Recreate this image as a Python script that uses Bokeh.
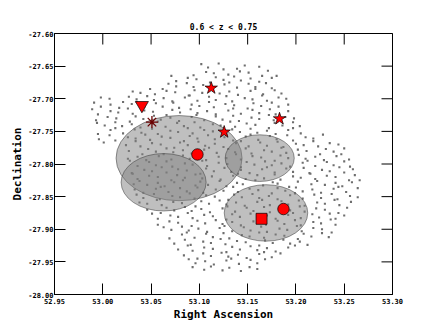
import math
from bokeh.plotting import figure
from bokeh.models import Range1d, FixedTicker, NumeralTickFormatter
from bokeh.embed import file_html
from bokeh.resources import INLINE

# ---- data ----
title_text = "0.6 < z < 0.75"
x_ticks = [52.95, 53.00, 53.05, 53.10, 53.15, 53.20, 53.25, 53.30]
y_ticks = [-28.00, -27.95, -27.90, -27.85, -27.80, -27.75, -27.70, -27.65, -27.60]
x_lim = [52.95, 53.30]
y_lim = [-28.00, -27.60]

# field galaxies (RA, Dec)
field_points = [
    (53.102,-27.647),(53.109,-27.652),(53.120,-27.646),(53.139,-27.654),(53.147,-27.649),(53.162,-27.651),
    (53.094,-27.664),(53.107,-27.659),(53.115,-27.661),(53.125,-27.655),(53.130,-27.663),(53.142,-27.658),(53.151,-27.660),(53.165,-27.665),(53.171,-27.657),
    (53.071,-27.665),(53.076,-27.673),(53.088,-27.668),(53.097,-27.670),(53.111,-27.675),(53.117,-27.667),(53.125,-27.671),(53.136,-27.666),(53.143,-27.672),(53.153,-27.669),(53.162,-27.674),(53.175,-27.668),(53.180,-27.665),
    (53.062,-27.685),(53.068,-27.677),(53.076,-27.681),(53.087,-27.676),(53.094,-27.682),(53.104,-27.679),(53.126,-27.678),(53.131,-27.675),(53.139,-27.683),(53.151,-27.677),(53.158,-27.682),(53.169,-27.676),(53.175,-27.684),
    (53.031,-27.689),(53.039,-27.691),(53.049,-27.685),(53.054,-27.693),(53.066,-27.688),(53.075,-27.690),(53.089,-27.695),(53.095,-27.687),(53.103,-27.691),(53.114,-27.686),(53.121,-27.692),(53.131,-27.689),(53.140,-27.694),(53.153,-27.688),(53.158,-27.685),(53.166,-27.693),(53.178,-27.687),(53.185,-27.692),
    (52.998,-27.698),(53.007,-27.700),(53.021,-27.705),(53.027,-27.697),(53.035,-27.701),(53.046,-27.696),(53.053,-27.702),(53.063,-27.699),(53.072,-27.704),(53.085,-27.698),(53.090,-27.695),(53.098,-27.703),(53.110,-27.697),(53.117,-27.702),(53.128,-27.696),(53.134,-27.704),(53.147,-27.699),(53.155,-27.701),(53.165,-27.695),(53.170,-27.703),(53.182,-27.698),(53.190,-27.700),
    (52.991,-27.706),(52.998,-27.712),(53.008,-27.709),(53.017,-27.714),(53.030,-27.708),(53.035,-27.705),(53.043,-27.713),(53.055,-27.707),(53.062,-27.712),(53.073,-27.706),(53.079,-27.714),(53.092,-27.709),(53.100,-27.711),(53.110,-27.705),(53.115,-27.713),(53.127,-27.708),(53.136,-27.710),(53.150,-27.715),(53.156,-27.707),(53.164,-27.711),(53.175,-27.706),(53.182,-27.712),(53.192,-27.709),
    (52.989,-27.716),(52.995,-27.724),(53.008,-27.719),(53.016,-27.721),(53.026,-27.715),(53.031,-27.723),(53.043,-27.718),(53.052,-27.720),(53.066,-27.725),(53.072,-27.717),(53.080,-27.721),(53.091,-27.716),(53.098,-27.722),(53.108,-27.719),(53.117,-27.724),(53.130,-27.718),(53.135,-27.715),(53.143,-27.723),(53.155,-27.717),(53.162,-27.722),(53.173,-27.716),(53.179,-27.724),(53.192,-27.719),
    (52.993,-27.733),(53.005,-27.728),(53.014,-27.730),(53.028,-27.735),(53.034,-27.727),(53.042,-27.731),(53.053,-27.726),(53.060,-27.732),(53.070,-27.729),(53.079,-27.734),(53.092,-27.728),(53.097,-27.725),(53.105,-27.733),(53.117,-27.727),(53.124,-27.732),(53.135,-27.726),(53.141,-27.734),(53.154,-27.729),(53.162,-27.731),(53.172,-27.725),(53.177,-27.733),(53.189,-27.728),(53.198,-27.730),
    (52.994,-27.737),(53.002,-27.741),(53.013,-27.736),(53.020,-27.742),(53.030,-27.739),(53.039,-27.744),(53.052,-27.738),(53.057,-27.735),(53.065,-27.743),(53.077,-27.737),(53.084,-27.742),(53.095,-27.736),(53.101,-27.744),(53.114,-27.739),(53.122,-27.741),(53.132,-27.735),(53.137,-27.743),(53.149,-27.738),(53.158,-27.740),(53.172,-27.745),(53.178,-27.737),(53.186,-27.741),(53.197,-27.736),(53.204,-27.742),
    (52.995,-27.754),(53.008,-27.748),(53.013,-27.745),(53.021,-27.753),(53.033,-27.747),(53.040,-27.752),(53.051,-27.746),(53.057,-27.754),(53.070,-27.749),(53.078,-27.751),(53.088,-27.745),(53.093,-27.753),(53.105,-27.748),(53.114,-27.750),(53.128,-27.755),(53.134,-27.747),(53.142,-27.751),(53.153,-27.746),(53.160,-27.752),(53.170,-27.749),(53.179,-27.754),(53.192,-27.748),(53.197,-27.745),(53.205,-27.753),
    (52.996,-27.762),(53.007,-27.756),(53.013,-27.764),(53.026,-27.759),(53.034,-27.761),(53.044,-27.755),(53.049,-27.763),(53.061,-27.758),(53.070,-27.760),(53.084,-27.765),(53.090,-27.757),(53.098,-27.761),(53.109,-27.756),(53.116,-27.762),(53.126,-27.759),(53.135,-27.764),(53.148,-27.758),(53.153,-27.755),(53.161,-27.763),(53.173,-27.757),(53.180,-27.762),(53.191,-27.756),(53.197,-27.764),(53.210,-27.759),(53.218,-27.761),(53.228,-27.755),
    (53.001,-27.767),(53.024,-27.771),(53.034,-27.765),(53.039,-27.773),(53.051,-27.768),(53.060,-27.770),(53.074,-27.775),(53.080,-27.767),(53.088,-27.771),(53.099,-27.766),(53.106,-27.772),(53.116,-27.769),(53.125,-27.774),(53.138,-27.768),(53.143,-27.765),(53.151,-27.773),(53.163,-27.767),(53.170,-27.772),(53.181,-27.766),(53.187,-27.774),(53.200,-27.769),(53.208,-27.771),(53.218,-27.765),(53.223,-27.773),(53.235,-27.768),(53.244,-27.770),
    (53.027,-27.780),(53.041,-27.785),(53.047,-27.777),(53.055,-27.781),(53.066,-27.776),(53.073,-27.782),(53.083,-27.779),(53.092,-27.784),(53.105,-27.778),(53.110,-27.775),(53.118,-27.783),(53.130,-27.777),(53.137,-27.782),(53.148,-27.776),(53.154,-27.784),(53.167,-27.779),(53.175,-27.781),(53.185,-27.775),(53.190,-27.783),(53.202,-27.778),(53.211,-27.780),(53.225,-27.785),(53.231,-27.777),(53.239,-27.781),(53.250,-27.776),
    (53.026,-27.792),(53.036,-27.789),(53.045,-27.794),(53.058,-27.788),(53.063,-27.785),(53.071,-27.793),(53.083,-27.787),(53.090,-27.792),(53.101,-27.786),(53.107,-27.794),(53.120,-27.789),(53.128,-27.791),(53.138,-27.785),(53.143,-27.793),(53.155,-27.788),(53.164,-27.790),(53.178,-27.795),(53.184,-27.787),(53.192,-27.791),(53.203,-27.786),(53.210,-27.792),(53.220,-27.789),(53.229,-27.794),(53.242,-27.788),(53.247,-27.785),(53.255,-27.793),
    (53.028,-27.795),(53.036,-27.803),(53.048,-27.797),(53.055,-27.802),(53.066,-27.796),(53.072,-27.804),(53.085,-27.799),(53.093,-27.801),(53.103,-27.795),(53.108,-27.803),(53.120,-27.798),(53.129,-27.800),(53.143,-27.805),(53.149,-27.797),(53.157,-27.801),(53.168,-27.796),(53.175,-27.802),(53.185,-27.799),(53.194,-27.804),(53.207,-27.798),(53.212,-27.795),(53.220,-27.803),(53.232,-27.797),(53.239,-27.802),(53.250,-27.796),(53.256,-27.804),
    (53.030,-27.814),(53.043,-27.809),(53.051,-27.811),(53.061,-27.805),(53.066,-27.813),(53.078,-27.808),(53.087,-27.810),(53.101,-27.815),(53.107,-27.807),(53.115,-27.811),(53.126,-27.806),(53.133,-27.812),(53.143,-27.809),(53.152,-27.814),(53.165,-27.808),(53.170,-27.805),(53.178,-27.813),(53.190,-27.807),(53.197,-27.812),(53.208,-27.806),(53.214,-27.814),(53.227,-27.809),(53.235,-27.811),(53.245,-27.805),(53.250,-27.813),(53.259,-27.808),
    (53.031,-27.815),(53.036,-27.823),(53.048,-27.818),(53.057,-27.820),(53.071,-27.825),(53.077,-27.817),(53.085,-27.821),(53.096,-27.816),(53.103,-27.822),(53.113,-27.819),(53.122,-27.824),(53.135,-27.818),(53.140,-27.815),(53.148,-27.823),(53.160,-27.817),(53.167,-27.822),(53.178,-27.816),(53.184,-27.824),(53.197,-27.819),(53.205,-27.821),(53.215,-27.815),(53.220,-27.823),(53.232,-27.818),(53.241,-27.820),(53.255,-27.825),(53.261,-27.817),
    (53.032,-27.831),(53.038,-27.826),(53.046,-27.832),(53.057,-27.829),(53.064,-27.834),(53.074,-27.828),(53.083,-27.825),(53.096,-27.833),(53.101,-27.827),(53.109,-27.832),(53.121,-27.826),(53.128,-27.834),(53.139,-27.829),(53.145,-27.831),(53.158,-27.825),(53.166,-27.833),(53.176,-27.828),(53.181,-27.830),(53.193,-27.835),(53.202,-27.827),(53.216,-27.831),(53.222,-27.826),(53.230,-27.832),(53.241,-27.829),(53.248,-27.834),(53.258,-27.828),(53.266,-27.825),
    (53.033,-27.839),(53.042,-27.844),(53.055,-27.838),(53.060,-27.835),(53.068,-27.843),(53.080,-27.837),(53.087,-27.842),(53.098,-27.836),(53.104,-27.844),(53.117,-27.839),(53.125,-27.841),(53.135,-27.835),(53.140,-27.843),(53.152,-27.838),(53.161,-27.840),(53.175,-27.845),(53.181,-27.837),(53.189,-27.841),(53.200,-27.836),(53.207,-27.842),(53.217,-27.839),(53.226,-27.844),(53.239,-27.838),(53.244,-27.835),(53.252,-27.843),(53.264,-27.837),
    (53.035,-27.847),(53.042,-27.852),(53.053,-27.846),(53.059,-27.854),(53.072,-27.849),(53.080,-27.851),(53.090,-27.845),(53.095,-27.853),(53.107,-27.848),(53.116,-27.850),(53.130,-27.855),(53.136,-27.847),(53.144,-27.851),(53.155,-27.846),(53.162,-27.852),(53.172,-27.849),(53.181,-27.854),(53.194,-27.848),(53.199,-27.845),(53.207,-27.853),(53.219,-27.847),(53.226,-27.852),(53.237,-27.846),(53.243,-27.854),(53.256,-27.849),(53.264,-27.851),
    (53.038,-27.859),(53.046,-27.861),(53.056,-27.855),(53.061,-27.863),(53.073,-27.858),(53.082,-27.860),(53.096,-27.865),(53.102,-27.857),(53.110,-27.861),(53.121,-27.856),(53.128,-27.862),(53.138,-27.859),(53.147,-27.864),(53.160,-27.858),(53.165,-27.855),(53.173,-27.863),(53.185,-27.857),(53.192,-27.862),(53.203,-27.856),(53.209,-27.864),(53.222,-27.859),(53.230,-27.861),(53.240,-27.855),(53.245,-27.863),(53.257,-27.858),
    (53.046,-27.870),(53.060,-27.875),(53.066,-27.867),(53.074,-27.871),(53.085,-27.866),(53.092,-27.872),(53.102,-27.869),(53.111,-27.874),(53.124,-27.868),(53.129,-27.865),(53.137,-27.873),(53.149,-27.867),(53.156,-27.872),(53.167,-27.866),(53.173,-27.874),(53.186,-27.869),(53.194,-27.871),(53.204,-27.865),(53.209,-27.873),(53.221,-27.868),(53.230,-27.870),(53.244,-27.875),(53.253,-27.867),
    (53.051,-27.876),(53.057,-27.884),(53.070,-27.879),(53.078,-27.881),(53.088,-27.875),(53.093,-27.883),(53.105,-27.878),(53.114,-27.880),(53.128,-27.885),(53.134,-27.877),(53.142,-27.881),(53.153,-27.876),(53.160,-27.882),(53.170,-27.879),(53.179,-27.884),(53.192,-27.878),(53.197,-27.875),(53.205,-27.883),(53.217,-27.877),(53.224,-27.882),(53.235,-27.876),(53.241,-27.884),(53.250,-27.879),
    (53.057,-27.893),(53.069,-27.888),(53.078,-27.890),(53.092,-27.895),(53.098,-27.887),(53.106,-27.891),(53.117,-27.886),(53.124,-27.892),(53.134,-27.889),(53.143,-27.894),(53.156,-27.888),(53.161,-27.885),(53.169,-27.893),(53.181,-27.887),(53.188,-27.892),(53.199,-27.886),(53.205,-27.894),(53.218,-27.889),(53.226,-27.891),(53.236,-27.885),(53.241,-27.893),
    (53.063,-27.897),(53.071,-27.901),(53.082,-27.896),(53.089,-27.902),(53.099,-27.899),(53.108,-27.904),(53.121,-27.898),(53.126,-27.895),(53.134,-27.903),(53.146,-27.897),(53.153,-27.902),(53.164,-27.896),(53.170,-27.904),(53.183,-27.899),(53.191,-27.901),(53.201,-27.895),(53.206,-27.903),(53.218,-27.898),(53.227,-27.900),(53.237,-27.905),
    (53.069,-27.914),(53.082,-27.908),(53.087,-27.905),(53.095,-27.913),(53.107,-27.907),(53.114,-27.912),(53.125,-27.906),(53.131,-27.914),(53.144,-27.909),(53.152,-27.911),(53.162,-27.905),(53.167,-27.913),(53.179,-27.908),(53.188,-27.910),(53.202,-27.915),(53.208,-27.907),(53.216,-27.911),(53.227,-27.906),(53.234,-27.912),
    (53.074,-27.922),(53.085,-27.916),(53.091,-27.924),(53.104,-27.919),(53.112,-27.921),(53.122,-27.915),(53.127,-27.923),(53.139,-27.918),(53.148,-27.920),(53.162,-27.925),(53.168,-27.917),(53.176,-27.921),(53.187,-27.916),(53.194,-27.922),(53.204,-27.919),(53.212,-27.924),
    (53.078,-27.931),(53.088,-27.925),(53.093,-27.933),(53.105,-27.928),(53.114,-27.930),(53.128,-27.935),(53.134,-27.927),(53.142,-27.931),(53.153,-27.926),(53.160,-27.932),(53.170,-27.929),(53.179,-27.934),(53.192,-27.928),(53.199,-27.925),
    (53.084,-27.940),(53.098,-27.945),(53.104,-27.937),(53.112,-27.941),(53.123,-27.936),(53.130,-27.942),(53.140,-27.939),(53.149,-27.944),(53.162,-27.938),(53.167,-27.935),(53.175,-27.943),(53.184,-27.937),
    (53.089,-27.946),(53.096,-27.952),(53.106,-27.949),(53.115,-27.954),(53.128,-27.948),(53.133,-27.945),(53.141,-27.953),(53.153,-27.947),(53.160,-27.952),(53.168,-27.946),
    (53.093,-27.958),(53.105,-27.962),(53.112,-27.957),(53.124,-27.963),(53.131,-27.959),(53.143,-27.964),(53.152,-27.958),(53.160,-27.961),
]
field_ra = [pt[0] for pt in field_points]
field_dec = [pt[1] for pt in field_points]

# shaded regions (circles in RA/Dec)
region_ra = [53.079, 53.063, 53.1625, 53.169]
region_dec = [-27.791, -27.828, -27.791, -27.875]
region_diam = [0.1305, 0.088, 0.0715, 0.0865]

# special objects
star_ra = [53.1123, 53.1257, 53.183]
star_dec = [-27.6837, -27.751, -27.7307]
circle_ra = [53.098, 53.1871]
circle_dec = [-27.7854, -27.869]
square_ra = [53.1644]
square_dec = [-27.884]
tri_ra = [53.0405]
tri_dec = [-27.710]
ast_ra = [53.0509]
ast_dec = [-27.7358]

FONT = "DejaVu Sans Mono"

p = figure(frame_width=338, frame_height=261, output_backend="svg", toolbar_location=None,
           x_range=Range1d(x_lim[0], x_lim[1]), y_range=Range1d(y_lim[0], y_lim[1]),
           min_border_left=54, min_border_right=34, min_border_top=33, min_border_bottom=28,
           title=title_text)
p.background_fill_color = "white"
p.border_fill_color = "white"
p.outline_line_color = "black"
p.outline_line_width = 1
p.xgrid.visible = False
p.ygrid.visible = False

p.title.align = "center"
p.title.text_font = FONT
p.title.text_font_style = "bold"
p.title.text_font_size = "8px"
p.title.text_color = "black"
p.title.standoff = 3
p.title.offset = 0

for ax, ticks in ((p.xaxis[0], x_ticks), (p.yaxis[0], y_ticks)):
    ax.ticker = FixedTicker(ticks=ticks)
    ax.formatter = NumeralTickFormatter(format="0.00")
    ax.major_tick_in = 11
    ax.major_tick_out = 0
    ax.minor_tick_line_color = None
    ax.major_tick_line_color = "black"
    ax.axis_line_color = "black"
    ax.major_label_text_font = FONT
    ax.major_label_text_font_style = "bold"
    ax.major_label_text_font_size = "7px"
    ax.major_label_text_color = "black"
    ax.axis_label_text_font = FONT
    ax.axis_label_text_font_style = "bold"
    ax.axis_label_text_font_size = "11px"
    ax.axis_label_text_color = "black"
p.xaxis[0].major_label_standoff = 3
p.xaxis[0].axis_label_standoff = 1
p.yaxis[0].major_label_standoff = 1
p.yaxis[0].axis_label_standoff = 1
p.xaxis[0].axis_label = "Right Ascension"
p.yaxis[0].axis_label = "Declination"

# field points
p.scatter(field_ra, field_dec, marker="square", size=2.1, fill_color="#6e6e6e",
          line_color=None)

# shaded regions
p.ellipse(x=region_ra, y=region_dec, width=region_diam, height=region_diam,
          fill_color="#808080", fill_alpha=0.5, line_color="#404040", line_alpha=0.55,
          line_width=1)

# mirrored ticks on top and right edges (dash markers centred on the frame edge, clipped)
p.scatter(x_ticks, [y_lim[1]] * len(x_ticks), marker="dash", size=22, angle=math.pi / 2,
          line_color="black", line_width=1)
p.scatter([x_lim[1]] * len(y_ticks), y_ticks, marker="dash", size=22,
          line_color="black", line_width=1)

# special objects
p.scatter(star_ra, star_dec, marker="star", size=13, fill_color="red",
          line_color="black", line_width=0.7)
p.scatter(circle_ra, circle_dec, marker="circle", size=11.5, fill_color="red",
          line_color="black", line_width=0.7)
p.scatter(square_ra, square_dec, marker="square", size=11, fill_color="red",
          line_color="black", line_width=0.7)
p.scatter(tri_ra, tri_dec, marker="inverted_triangle", size=13, fill_color="red",
          line_color="black", line_width=0.7)
p.scatter(ast_ra, ast_dec, marker="asterisk", size=12, line_color="#6a0000",
          line_width=1.3)

open("out.html", "w").write(file_html(p, INLINE))
